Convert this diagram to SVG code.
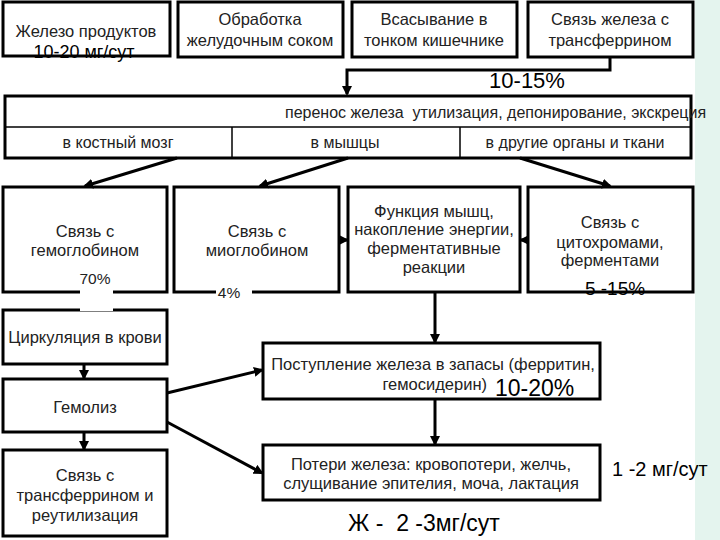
<svg xmlns="http://www.w3.org/2000/svg" width="720" height="540" viewBox="0 0 720 540">
<defs>
<style>
.box{fill:#fff;stroke:#000;stroke-width:3}
.t{font-family:"Liberation Sans",Arial,sans-serif;font-size:16.5px;fill:#222;text-anchor:middle}
.s{font-size:16px}
.p{font-size:15.5px}
.st{text-anchor:start}
.en{text-anchor:end}
.big{font-family:"Liberation Sans",Arial,sans-serif;font-size:22px;fill:#000;white-space:pre}
.mid{font-family:"Liberation Sans",Arial,sans-serif;font-size:18px;fill:#000}
.c{stroke:#000;stroke-width:3;fill:none}
.thin{stroke:#000;stroke-width:1.5;fill:none}
</style>
<marker id="ah" markerWidth="10" markerHeight="10" refX="8" refY="5" orient="auto" markerUnits="userSpaceOnUse">
<path d="M0,0 L10,5 L0,10 z" fill="#000"/>
</marker>
</defs>
<rect width="720" height="540" fill="#fff"/>
<rect x="695" y="0" width="25" height="540" fill="#e4f4ee"/>

<g id="n1"><rect class="box" x="3" y="2" width="167" height="54"/>
<text class="t" x="86" y="37">Железо продуктов</text>
<text class="mid" x="84" y="58" text-anchor="middle">10-20 мг/сут</text></g>
<g id="n2"><rect class="box" x="178" y="2" width="165" height="55"/>
<text class="t" x="260" y="25">Обработка</text>
<text class="t" x="260" y="46">желудочным соком</text></g>
<g id="n3"><rect class="box" x="352" y="2" width="165" height="55"/>
<text class="t" x="434" y="25">Всасывание в</text>
<text class="t" x="434" y="46">тонком кишечнике</text></g>
<g id="n4"><rect class="box" x="528" y="2" width="165" height="55"/>
<text class="t" x="610" y="25">Связь железа с</text>
<text class="t" x="610" y="46">трансферрином</text></g>

<text class="big" x="527" y="88" text-anchor="middle">10-15%</text>

<g id="band"><rect class="box" x="5" y="96" width="686" height="62"/>
<line class="thin" x1="5" y1="127" x2="691" y2="127"/>
<line class="thin" x1="232" y1="127" x2="232" y2="158"/>
<line class="thin" x1="460" y1="127" x2="460" y2="158"/>
<text class="t s st" x="285" y="118" style="white-space:pre">перенос железа  утилизация, депонирование, экскреция</text>
<text class="t s" x="118" y="148">в костный мозг</text>
<text class="t s" x="345" y="148">в мышцы</text>
<text class="t s" x="575" y="148">в другие органы и ткани</text></g>

<g id="nA"><rect class="box" x="3" y="187" width="164" height="105"/>
<text class="t" x="85" y="237">Связь с</text>
<text class="t" x="85" y="256">гемоглобином</text>
<text class="t p" x="95" y="284">70%</text></g>
<g id="nB"><rect class="box" x="174" y="187" width="165" height="105"/>
<text class="t" x="257" y="237">Связь с</text>
<text class="t" x="257" y="256">миоглобином</text>
<rect x="216" y="285" width="36" height="13" fill="#fff"/>
<text class="t p" x="229" y="298">4%</text></g>
<g id="nC"><rect class="box" x="348" y="187" width="172" height="105"/>
<text class="t" x="434" y="217">Функция мышц,</text>
<text class="t" x="434" y="235">накопление энергии,</text>
<text class="t" x="434" y="254">ферментативные</text>
<text class="t" x="434" y="273">реакции</text></g>
<g id="nD"><rect class="box" x="528" y="187" width="165" height="105"/>
<text class="t" x="610" y="228">Связь с</text>
<text class="t" x="610" y="248">цитохромами,</text>
<text class="t" x="610" y="266">ферментами</text>
<text class="mid" x="615" y="295" text-anchor="middle" style="font-size:19px">5 -15%</text></g>

<g id="nE"><rect class="box" x="3" y="310" width="164" height="54"/>
<text class="t" x="85" y="343">Циркуляция в крови</text></g>
<g id="nF"><rect class="box" x="3" y="379" width="164" height="53"/>
<text class="t" x="85" y="413">Гемолиз</text></g>
<g id="nG"><rect class="box" x="3" y="450" width="164" height="86"/>
<text class="t" x="85" y="481">Связь с</text>
<text class="t" x="85" y="501">трансферрином и</text>
<text class="t" x="85" y="521">реутилизация</text></g>

<rect x="80" y="289" width="33" height="22" fill="#fff"/>

<g id="nH"><rect class="box" x="263" y="343" width="337" height="56"/>
<text class="t" x="433" y="370">Поступление железа в запасы (ферритин,</text>
<text class="t en" x="487" y="390">гемосидерин)</text>
<text class="big" x="495" y="396" style="font-size:23px">10-20%</text></g>
<g id="nI"><rect class="box" x="263" y="445" width="337" height="55"/>
<text class="t" x="431" y="470">Потери железа: кровопотери, желчь,</text>
<text class="t" x="431" y="489">слущивание эпителия, моча, лактация</text></g>

<text class="mid" x="612" y="476" style="font-size:20px">1 -2 мг/сут</text>
<text class="big" x="424" y="531" text-anchor="middle" style="font-size:23px">Ж -  2 -3мг/сут</text>

<g id="connectors">
<path class="c" d="M610,57 V70 H347 V94" marker-end="url(#ah)" stroke-width="2"/>
<line class="c" x1="177" y1="158" x2="85" y2="186" marker-end="url(#ah)"/>
<line class="c" x1="348" y1="158" x2="260" y2="186" marker-end="url(#ah)"/>
<line class="c" x1="520" y1="158" x2="610" y2="186" marker-end="url(#ah)"/>
<line class="c" x1="339" y1="240" x2="347" y2="240" marker-end="url(#ah)"/>
<line class="c" x1="528" y1="240" x2="521" y2="240" marker-end="url(#ah)"/>
<line class="c" x1="435" y1="292" x2="435" y2="342" marker-end="url(#ah)"/>
<line class="c" x1="84" y1="364" x2="84" y2="378" marker-end="url(#ah)"/>
<line class="c" x1="84" y1="432" x2="84" y2="449" marker-end="url(#ah)"/>
<line class="c" x1="167" y1="393" x2="262" y2="370" marker-end="url(#ah)"/>
<line class="c" x1="167" y1="422" x2="262" y2="473" marker-end="url(#ah)"/>
<line class="c" x1="435" y1="399" x2="435" y2="444" marker-end="url(#ah)"/>
</g>
</svg>
